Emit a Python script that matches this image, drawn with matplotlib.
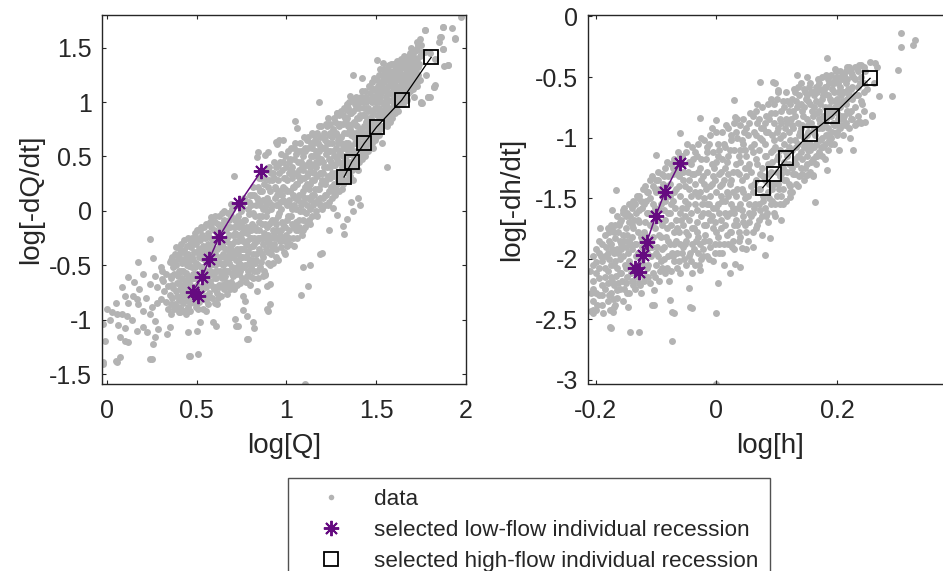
import numpy as np
import matplotlib
matplotlib.use("Agg")
from matplotlib import pyplot as plt
from matplotlib.lines import Line2D

plt.rcParams['font.family'] = ['Liberation Sans', 'DejaVu Sans']
plt.rcParams['axes.unicode_minus'] = False

# ---- selected recessions ----
low_logQ = [0.859, 0.738, 0.625, 0.571, 0.532, 0.479, 0.507]
low_dQ = [0.364, 0.069, -0.241, -0.444, -0.603, -0.741, -0.778]
high_logQ = [1.806, 1.642, 1.503, 1.434, 1.364, 1.321]
high_dQ = [1.411, 1.017, 0.772, 0.622, 0.449, 0.311]

low_logh = [-0.061, -0.085, -0.1005, -0.1154, -0.121, -0.135, -0.128]
low_dh = [-1.212, -1.446, -1.647, -1.864, -1.969, -2.078, -2.111]
high_logh = [0.255, 0.192, 0.155, 0.1156, 0.096, 0.077]
high_dh = [-0.511, -0.822, -0.970, -1.171, -1.300, -1.413]

# ---- gray data cloud, discharge panel ----
data_q_band = [
    (0.30, -0.52), (0.31, -0.63), (0.32, -0.74), (0.30, -0.81), (0.33, -0.58), (0.34, -0.69), (0.33, -0.84),
    (0.35, -0.47), (0.35, -0.77), (0.34, -0.90), (0.36, -0.62), (0.37, -0.71), (0.37, -0.52), (0.38, -0.86),
    (0.38, -0.40), (0.39, -0.66), (0.39, -0.78), (0.40, -0.55), (0.40, -0.93), (0.36, -0.95), (0.41, -0.35),
    (0.41, -0.72), (0.42, -0.48), (0.42, -0.62), (0.43, -0.81), (0.43, -0.27), (0.44, -0.57), (0.44, -0.70),
    (0.45, -0.40), (0.45, -0.88), (0.46, -0.51), (0.46, -0.76), (0.44, -0.95), (0.47, -0.63), (0.47, -0.33),
    (0.48, -0.45), (0.48, -0.84), (0.49, -0.58), (0.49, -0.20), (0.50, -0.68), (0.50, -0.38), (0.51, -0.90),
    (0.51, -0.50), (0.52, -0.27), (0.52, -0.62), (0.50, -0.80), (0.53, -0.73), (0.53, -0.43), (0.54, -0.15),
    (0.54, -0.55), (0.55, -0.82), (0.55, -0.35), (0.56, -0.66), (0.56, -0.47), (0.57, -0.24), (0.57, -0.75),
    (0.58, -0.58), (0.58, -0.06), (0.55, -0.92), (0.59, -0.38), (0.60, -0.70), (0.60, -0.50), (0.61, -0.28),
    (0.61, -0.62), (0.62, -0.12), (0.62, -0.80), (0.63, -0.42), (0.63, -0.55), (0.64, -0.02), (0.64, -0.68),
    (0.65, -0.33), (0.65, -0.18), (0.66, -0.60), (0.66, -0.48), (0.67, -0.76), (0.67, -0.25), (0.68, -0.08),
    (0.68, -0.40), (0.69, -0.65), (0.69, 0.06), (0.70, -0.52), (0.70, -0.30), (0.71, -0.15), (0.71, -0.72),
    (0.72, -0.45), (0.72, -0.58), (0.73, -0.22), (0.73, -0.05), (0.74, -0.66), (0.74, -0.35), (0.75, -0.50),
    (0.75, -0.12), (0.76, -0.28), (0.76, -0.78), (0.77, 0.10), (0.77, -0.42), (0.78, -0.60), (0.78, -0.20),
    (0.79, -0.03), (0.79, -0.48), (0.80, -0.33), (0.80, -0.68), (0.81, 0.15), (0.81, -0.12), (0.82, -0.55),
    (0.82, -0.25), (0.83, 0.05), (0.83, -0.40), (0.84, -0.62), (0.84, 0.22), (0.85, -0.18), (0.85, -0.05),
    (0.86, -0.47), (0.86, 0.30), (0.87, -0.30), (0.87, 0.10), (0.88, -0.58), (0.88, -0.12), (0.89, 0.38),
    (0.89, 0.00), (0.90, -0.38), (0.90, -0.22), (0.91, 0.18), (0.91, -0.50), (0.92, -0.08), (0.92, 0.28),
    (0.93, -0.30), (0.93, 0.45), (0.94, 0.05), (0.94, -0.42), (0.95, -0.18), (0.95, 0.15), (0.96, 0.35),
    (0.96, -0.02), (0.97, -0.33), (0.97, 0.52), (0.98, 0.22), (0.98, -0.12), (0.99, 0.08), (0.99, -0.40),
    (1.00, 0.40), (1.00, -0.22), (1.01, 0.55), (1.01, -0.05), (1.02, 0.18), (1.02, -0.30), (1.03, 0.30),
    (1.03, 0.02), (1.04, -0.15), (1.04, 0.48), (1.05, 0.12), (1.05, 0.62), (1.06, -0.25), (1.06, 0.25),
    (1.07, 0.38), (1.07, -0.08), (1.08, 0.05), (1.08, 0.55), (1.09, 0.18), (1.09, -0.18), (1.10, 0.68),
    (1.10, 0.30), (1.11, 0.42), (1.11, -0.02), (1.12, 0.12), (1.12, 0.58), (1.13, 0.25), (1.13, -0.12),
    (1.14, 0.72), (1.14, 0.36), (1.15, 0.05), (1.15, 0.50), (1.16, 0.20), (1.16, 0.65), (1.17, -0.05),
    (1.17, 0.32), (1.18, 0.45), (1.18, 0.78), (1.19, 0.12), (1.19, 0.60), (1.20, 0.28), (1.20, 0.02),
    (1.21, 0.72), (1.21, 0.40), (1.22, 0.52), (1.22, 0.15), (1.23, 0.85), (1.23, 0.32), (1.24, 0.62),
    (1.24, 0.08), (1.25, 0.45), (1.25, 0.22), (1.26, 0.75), (1.26, 0.55), (1.27, 0.35), (1.27, 0.15),
    (1.28, 0.90), (1.28, 0.48), (1.29, 0.65), (1.29, 0.28), (1.30, 0.80), (1.30, 0.55), (1.31, 0.40),
    (1.31, 0.20), (1.32, 0.72), (1.32, 0.95), (1.33, 0.50), (1.33, 0.62), (1.34, 0.35), (1.34, 0.85),
    (1.35, 0.58), (1.35, 1.00), (1.36, 0.45), (1.36, 0.70), (1.37, 0.28), (1.37, 0.92), (1.38, 0.62),
    (1.38, 0.80), (1.39, 0.50), (1.39, 1.05), (1.40, 0.72), (1.40, 0.38), (1.41, 0.88), (1.41, 0.60),
    (1.42, 1.10), (1.42, 0.48), (1.43, 0.78), (1.43, 0.95), (1.44, 0.68), (1.44, 0.55), (1.45, 1.02),
    (1.45, 0.85), (1.46, 0.62), (1.46, 1.15), (1.47, 0.75), (1.47, 0.92), (1.48, 0.58), (1.48, 1.05),
    (1.49, 0.82), (1.49, 1.22), (1.50, 0.95), (1.50, 0.68), (1.51, 1.12), (1.51, 0.88), (1.52, 0.75),
    (1.52, 1.30), (1.53, 1.00), (1.53, 0.62), (1.54, 1.18), (1.54, 0.85), (1.55, 0.95), (1.55, 1.28),
    (1.56, 0.78), (1.56, 1.08), (1.57, 1.22), (1.57, 0.90), (1.58, 1.35), (1.58, 1.02), (1.59, 0.85),
    (1.59, 1.15), (1.60, 1.25), (1.60, 0.98), (1.61, 1.10), (1.62, 1.32), (1.62, 0.92), (1.63, 1.20),
    (1.63, 1.05), (1.64, 1.40), (1.65, 0.98), (1.65, 1.25), (1.66, 1.12), (1.66, 1.35), (1.67, 1.02),
    (1.67, 1.18), (1.68, 1.30), (1.69, 1.10), (1.69, 1.45), (1.70, 1.22), (1.71, 1.38), (1.71, 1.05),
    (1.72, 1.28), (1.73, 1.48), (1.73, 1.15), (1.74, 1.35), (1.75, 1.52), (1.75, 1.00),
]
# more band points, one row per log[Q] column: (x, y1, y2, ...)
data_q_cols = [
    (0.355, -0.86, -0.60, -0.45), (0.365, -0.80, -0.68, -0.42), (0.375, -0.90, -0.58, -0.47),
    (0.385, -0.74, -0.50, -0.33), (0.395, -0.88, -0.60, -0.44), (0.405, -0.82, -0.66, -0.40),
    (0.415, -0.90, -0.55, -0.30), (0.425, -0.75, -0.38, -0.70), (0.435, -0.92, -0.64, -0.45),
    (0.445, -0.82, -0.50, -0.32), (0.455, -0.72, -0.60, -0.25), (0.465, -0.92, -0.44, -0.68),
    (0.475, -0.80, -0.52, -0.25), (0.485, -0.70, -0.38, -0.62), (0.495, -0.88, -0.48, -0.30),
    (0.505, -0.75, -0.58, -0.18), (0.515, -0.84, -0.42, -0.35), (0.525, -0.70, -0.52, -0.15),
    (0.535, -0.90, -0.62, -0.32), (0.545, -0.78, -0.45, -0.25), (0.555, -0.70, -0.55, -0.12),
    (0.565, -0.86, -0.40, -0.30), (0.575, -0.64, -0.50, -0.10), (0.585, -0.80, -0.30, -0.45),
    (0.595, -0.72, -0.56, -0.18), (0.605, -0.85, -0.40, -0.05), (0.615, -0.75, -0.48, -0.20),
    (0.625, -0.68, -0.33, -0.05), (0.635, -0.78, -0.60, -0.25), (0.645, -0.50, -0.40, -0.12),
    (0.655, -0.72, -0.55, 0.00), (0.665, -0.65, -0.35, -0.18), (0.675, -0.55, -0.45, -0.02),
    (0.685, -0.72, -0.30, -0.15), (0.695, -0.58, -0.42, 0.02), (0.705, -0.68, -0.22, -0.38),
    (0.715, -0.55, -0.08, -0.28), (0.725, -0.68, -0.35, 0.05), (0.735, -0.48, -0.15, -0.58),
    (0.745, -0.25, -0.42, 0.00), (0.755, -0.62, -0.35, -0.20), (0.765, -0.52, -0.08, 0.12),
    (0.775, -0.65, -0.30, -0.15), (0.785, -0.55, -0.38, 0.02), (0.795, -0.25, -0.60, 0.15),
    (0.805, -0.45, -0.18, 0.05), (0.815, -0.62, -0.32, 0.22), (0.825, -0.48, -0.05, -0.15),
    (0.835, -0.55, -0.28, 0.12), (0.845, -0.35, -0.10, 0.30), (0.855, -0.52, -0.25, 0.05),
    (0.865, -0.40, -0.12, 0.18), (0.875, -0.55, -0.20, 0.25), (0.885, -0.35, 0.05, -0.05),
    (0.895, -0.48, -0.28, 0.22), (0.905, -0.12, 0.08, 0.40), (0.915, -0.40, -0.25, 0.02),
    (0.925, -0.48, -0.18, 0.35), (0.935, -0.08, 0.12, 0.22), (0.945, -0.35, -0.25, 0.40),
    (0.955, -0.45, -0.05, 0.28), (0.965, -0.22, 0.08, 0.45), (0.975, -0.10, 0.15, 0.38),
    (0.985, -0.38, -0.25, 0.30), (0.995, -0.15, 0.20, 0.50), (1.005, -0.32, 0.05, 0.28),
    (1.015, -0.18, 0.10, 0.45), (1.025, -0.05, 0.38, 0.58), (1.035, -0.25, 0.15, 0.22),
    (1.045, -0.32, 0.05, 0.35), (1.055, -0.10, 0.25, 0.52), (1.065, -0.18, 0.10, 0.45),
    (1.075, 0.00, 0.28, 0.62), (1.085, -0.22, 0.15, 0.40), (1.095, -0.08, 0.08, 0.50),
    (1.105, -0.15, 0.22, 0.58), (1.115, 0.05, 0.32, 0.65), (1.125, -0.08, 0.20, 0.45),
    (1.135, 0.10, 0.50, 0.62), (1.145, -0.05, 0.28, 0.42), (1.155, 0.15, 0.35, 0.70),
    (1.165, 0.00, 0.45, 0.55), (1.175, 0.20, 0.10, 0.62), (1.185, 0.05, 0.35, 0.68),
    (1.195, 0.25, 0.48, 0.78), (1.205, 0.12, 0.35, 0.58), (1.215, 0.05, 0.25, 0.65),
    (1.225, 0.40, 0.62, 0.78), (1.235, 0.18, 0.48, 0.70), (1.245, 0.30, 0.55, 0.80),
    (1.255, 0.12, 0.35, 0.68), (1.265, 0.25, 0.42, 0.85), (1.275, 0.20, 0.58, 0.72),
    (1.285, 0.35, 0.62, 0.80), (1.295, 0.18, 0.45, 0.88), (1.305, 0.30, 0.68, 0.92),
    (1.315, 0.25, 0.50, 0.80), (1.325, 0.38, 0.58, 0.85), (1.335, 0.28, 0.72, 0.98),
    (1.345, 0.45, 0.62, 0.78), (1.355, 0.32, 0.52, 0.90), (1.365, 0.38, 0.80, 1.02),
    (1.375, 0.48, 0.68, 0.82), (1.385, 0.42, 0.72, 0.95), (1.395, 0.55, 0.85, 1.00),
    (1.405, 0.45, 0.62, 0.95), (1.415, 0.52, 0.75, 1.05), (1.425, 0.62, 0.88, 1.00),
    (1.435, 0.50, 0.72, 1.10), (1.445, 0.60, 0.82, 1.00), (1.455, 0.55, 0.72, 0.92),
    (1.465, 0.68, 0.85, 1.08), (1.475, 0.62, 1.00, 1.18), (1.485, 0.70, 0.90, 1.12),
    (1.495, 0.65, 0.78, 1.05), (1.505, 0.82, 1.00, 1.20), (1.515, 0.70, 0.95, 1.25),
    (1.525, 0.85, 1.08, 1.18), (1.535, 0.78, 0.92, 1.25), (1.545, 0.98, 1.12, 1.30),
    (1.555, 0.85, 1.05, 1.20), (1.565, 0.95, 1.15, 1.32), (1.575, 0.82, 1.08, 1.28),
    (1.585, 0.92, 1.18, 1.25), (1.595, 1.00, 1.10, 1.35), (1.605, 0.90, 1.15, 1.30),
    (1.615, 1.02, 1.22, 1.38), (1.625, 0.98, 1.12, 1.28), (1.635, 1.08, 1.25, 1.35),
    (1.645, 1.00, 1.18, 1.32), (1.655, 1.05, 1.22, 1.42), (1.665, 1.10, 1.28, 1.38),
    (1.675, 1.08, 1.20, 1.35), (1.685, 1.15, 1.25, 1.42), (1.695, 1.18, 1.32, 1.50),
    (1.705, 1.12, 1.28, 1.45), (1.715, 1.22, 1.35, 1.48), (1.725, 1.18, 1.40, 1.55),
    (1.735, 1.25, 1.32, 1.52), (1.745, 1.20, 1.42, 1.58),
    (0.4125, -0.78, -0.44), (0.4225, -0.85, -0.55), (0.4325, -0.68, -0.36), (0.4425, -0.78, -0.42),
    (0.4525, -0.65, -0.48), (0.4625, -0.85, -0.30), (0.4725, -0.72, -0.42), (0.4825, -0.58, -0.28),
    (0.4925, -0.78, -0.52), (0.5025, -0.62, -0.25), (0.5125, -0.70, -0.58), (0.5225, -0.80, -0.40),
    (0.5325, -0.52, -0.22), (0.5425, -0.68, -0.35), (0.5525, -0.60, -0.42), (0.5625, -0.78, -0.20),
    (0.5725, -0.55, -0.35), (0.5825, -0.68, -0.15), (0.5925, -0.48, -0.28), (0.6025, -0.62, -0.10),
    (0.6125, -0.55, -0.35), (0.6225, -0.70, -0.22), (0.6325, -0.48, -0.15), (0.6425, -0.62, -0.30),
    (0.6525, -0.42, -0.08), (0.6625, -0.55, -0.28), (0.6725, -0.68, -0.15), (0.6825, -0.48, -0.22),
    (0.6925, -0.35, -0.05), (0.7025, -0.60, -0.42), (0.7125, -0.38, -0.20), (0.7225, -0.52, -0.12),
    (0.7325, -0.40, -0.28), (0.7425, -0.55, -0.10), (0.7525, -0.42, 0.05), (0.7625, -0.35, -0.18),
    (0.7725, -0.50, -0.08), (0.7825, -0.42, -0.28), (0.7925, -0.15, 0.08), (0.8025, -0.52, -0.25),
    (0.8125, -0.40, -0.02), (0.8225, -0.30, 0.15), (0.8325, -0.18, -0.45), (0.8425, -0.25, 0.10),
    (0.8525, -0.38, 0.18), (0.8625, -0.05, -0.25), (0.8725, -0.42, 0.02), (0.8825, -0.25, 0.30),
    (0.8925, -0.15, 0.12), (0.9025, -0.30, 0.28), (0.9125, -0.10, 0.35), (0.9225, -0.35, 0.05),
    (0.9325, -0.20, 0.30), (0.9425, -0.12, 0.20), (0.9525, 0.05, 0.42), (0.9625, -0.28, 0.18),
    (0.9725, -0.18, 0.02), (0.9825, 0.10, 0.45), (0.9925, -0.28, 0.30), (1.0025, -0.08, 0.18),
    (1.0125, -0.25, 0.35), (1.0225, 0.05, 0.48), (1.0325, -0.12, 0.40), (1.0425, 0.22, 0.58),
    (1.0525, -0.18, 0.02), (1.0625, 0.32, 0.55), (1.0725, -0.15, 0.15), (1.0825, 0.30, 0.45),
    (1.0925, 0.00, 0.38), (1.1025, 0.12, 0.55), (1.1125, -0.10, 0.25), (1.1225, 0.35, 0.68),
    (1.1325, 0.02, 0.40), (1.1425, 0.15, 0.58), (1.1525, 0.28, 0.62), (1.1625, 0.08, 0.40),
    (1.1725, 0.50, 0.72), (1.1825, 0.20, 0.55), (1.1925, 0.35, 0.05), (1.2025, 0.45, 0.68),
    (1.2125, 0.15, 0.58), (1.2225, 0.28, 0.80), (1.2325, 0.05, 0.55), (1.2425, 0.40, 0.72),
    (1.2525, 0.18, 0.62), (1.2625, 0.32, 0.50), (1.2725, 0.42, 0.82), (1.2825, 0.25, 0.70),
    (1.2925, 0.52, 0.78), (1.3025, 0.35, 0.62), (1.3125, 0.58, 0.88), (1.3225, 0.28, 0.45),
    (1.3325, 0.40, 0.82), (1.3425, 0.55, 0.95), (1.3525, 0.42, 0.75), (1.3625, 0.60, 0.90),
    (1.3725, 0.55, 0.72), (1.3825, 0.50, 0.98), (1.3925, 0.65, 0.78), (1.4025, 0.55, 0.85),
    (1.4125, 0.68, 1.00), (1.4225, 0.55, 0.70), (1.4325, 0.62, 0.88), (1.4425, 0.78, 1.05),
    (1.4525, 0.68, 0.95), (1.4625, 0.75, 1.02), (1.4725, 0.68, 0.85), (1.4825, 0.80, 1.12),
    (1.4925, 0.72, 0.95), (1.5025, 0.88, 1.08), (1.5125, 0.78, 1.15), (1.5225, 0.92, 1.05),
    (1.5325, 0.85, 1.15), (1.5425, 0.90, 1.22), (1.5525, 0.82, 1.12), (1.5625, 1.00, 1.25),
    (1.5725, 0.95, 1.15), (1.5825, 1.08, 1.28), (1.5925, 0.95, 1.22), (1.6025, 1.05, 1.18),
    (1.6125, 0.95, 1.28), (1.6225, 1.08, 1.22), (1.6325, 1.15, 1.30), (1.6425, 1.08, 1.25),
    (1.6525, 1.15, 1.32), (1.6625, 1.02, 1.22), (1.6725, 1.25, 1.40), (1.6825, 1.18, 1.35),
    (1.6925, 1.22, 1.40), (1.7025, 1.30, 1.42), (1.7125, 1.15, 1.32),
]
data_q_outer = [
    (1.77, 1.46), (1.78, 1.25), (1.79, 1.05), (1.80, 1.45), (1.82, 1.14), (1.83, 1.40), (1.85, 1.55),
    (1.77, 1.66), (1.87, 1.69), (1.86, 1.60), (1.87, 1.49), (1.90, 1.34), (1.94, 1.58), (1.97, 1.78),
    (1.92, 1.68), (1.826, 1.156), (1.875, 1.33), (-0.019, -1.039), (-0.01, -1.192), (-0.019, -1.392),
    (0.028, -0.931), (0.056, -0.947), (0.083, -0.947), (0.111, -0.962), (0.074, -1.162), (0.102, -1.192),
    (0.121, -1.208), (0.056, -1.392), (0.074, -1.346), (0.148, -0.778), (0.167, -0.809), (0.176, -0.855),
    (0.083, -0.695), (0.121, -0.609), (0.176, -0.471), (0.241, -0.256), (0.26, -0.431), (0.204, -0.916),
    (0.241, -0.947), (0.269, -1.008), (0.287, -1.085), (0.269, -1.162), (0.26, -1.223), (0.241, -1.361),
    (0.204, -1.07), (0.223, -1.116), (0.306, -0.548), (0.315, -0.64), (0.278, -0.701), (0.352, -1.07),
    (0.334, -1.131), (0.408, -0.931), (0.455, -1.116), (0.464, -1.33), (0.51, -1.315), (0.519, -1.024),
    (0.501, -1.1), (0.594, -1.024), (0.612, -0.855), (0.714, -0.993), (0.733, -1.054), (0.779, -0.962),
    (0.816, -1.024), (0.789, -1.177), (0.77, -0.824), (0.835, -0.732), (0.89, -0.686), (0.909, -0.855),
    (0.90, -0.916), (0.872, -0.594), (0.15, -0.65), (0.18, -0.72), (0.20, -0.58), (0.22, -0.80),
    (0.24, -0.67), (0.25, -0.88), (0.27, -0.60), (0.28, -0.85), (0.12, -0.85), (0.10, -0.78), (0.05, -0.85),
    (0.00, -0.90), (0.02, -1.00), (0.06, -1.05), (0.14, -1.00), (0.17, -1.10), (0.10, -1.08),
    (0.71, 0.32), (0.835, 0.495), (0.88, 0.51), (0.946, 0.618), (0.98, 0.65), (0.52, -0.18),
    (1.188, -0.394), (1.09, -0.52), (1.08, -0.77), (1.28, -0.04), (1.37, 0.00), (1.318, -0.14),
    (1.56, 0.40), (1.40, 0.12), (1.104, -1.59), (1.32, -0.21), (1.34, -0.07), (1.41, 0.05), (1.36, 0.08),
    (1.26, 0.03), (1.20, -0.39), (1.24, -0.18), (1.13, -0.50), (1.12, -0.69), (0.91, -0.67), (0.88, -0.59),
    (0.96, 0.65), (1.06, 0.76), (1.05, 0.83), (0.84, 0.54), (0.90, 0.54), (0.94, 0.63), (1.18, 1.00),
    (1.75, 0.99), (1.80, 1.05), (1.772, 1.662), (1.874, 1.693), (1.856, 1.60), (1.94, 1.585), (1.735, 1.52),
    (1.754, 1.46), (1.874, 1.49), (1.902, 1.34), (1.82, 1.14), (1.79, 1.05), (1.754, 0.99), (1.633, 1.31),
    (1.57, 1.34), (1.503, 1.39), (1.54, 1.355), (1.373, 1.25), (1.42, 1.22), (1.466, 1.14), (1.52, 1.17),
    (1.355, 1.06), (1.28, 0.895), (1.336, 0.925), (0.61, -1.06), (0.72, -1.06), (0.82, -1.08),
    (0.76, -0.91), (0.25, -1.36), (0.46, -1.33), (0.05, -1.38), (-0.02, -1.41), (0.78, -1.18), (0.89, -0.90),
]

# ---- gray data cloud, stage panel ----
data_h_band = [
    (-0.210, -2.10), (-0.205, -2.25), (-0.200, -2.03), (-0.198, -2.38), (-0.195, -2.16), (-0.192, -1.98),
    (-0.190, -2.30), (-0.188, -2.45), (-0.185, -2.08), (-0.207, -2.43), (-0.183, -1.90), (-0.180, -2.20),
    (-0.178, -1.78), (-0.175, -2.05), (-0.172, -2.33), (-0.170, -1.95), (-0.168, -1.83), (-0.166, -2.14),
    (-0.164, -2.26), (-0.162, -1.72), (-0.160, -2.00), (-0.176, -2.42), (-0.158, -1.88), (-0.156, -2.18),
    (-0.154, -1.62), (-0.152, -2.05), (-0.150, -1.75), (-0.148, -2.28), (-0.146, -1.95), (-0.144, -1.55),
    (-0.142, -2.12), (-0.140, -1.82), (-0.138, -2.22), (-0.136, -1.68), (-0.134, -1.98), (-0.132, -1.48),
    (-0.130, -1.78), (-0.128, -1.60), (-0.126, -2.22), (-0.124, -1.90), (-0.122, -1.42), (-0.120, -2.05),
    (-0.118, -1.70), (-0.116, -1.52), (-0.114, -2.15), (-0.112, -1.85), (-0.110, -1.35), (-0.108, -1.98),
    (-0.106, -1.62), (-0.104, -2.26), (-0.102, -1.75), (-0.100, -1.45), (-0.098, -1.90), (-0.096, -1.28),
    (-0.094, -2.10), (-0.092, -1.55), (-0.090, -1.72), (-0.088, -1.38), (-0.086, -2.00), (-0.084, -1.82),
    (-0.082, -1.20), (-0.080, -1.62), (-0.078, -2.18), (-0.076, -1.48), (-0.074, -1.95), (-0.072, -1.30),
    (-0.070, -1.78), (-0.068, -1.58), (-0.066, -2.08), (-0.064, -1.12), (-0.062, -1.40), (-0.060, -1.88),
    (-0.058, -1.68), (-0.056, -1.22), (-0.054, -2.00), (-0.052, -1.52), (-0.050, -1.78), (-0.048, -1.05),
    (-0.046, -1.35), (-0.044, -1.95), (-0.042, -1.62), (-0.040, -2.12), (-0.038, -1.18), (-0.036, -1.45),
    (-0.034, -1.85), (-0.032, -1.70), (-0.030, -1.28), (-0.028, -2.05), (-0.026, -1.00), (-0.024, -1.55),
    (-0.022, -1.92), (-0.020, -1.38), (-0.018, -1.80), (-0.016, -1.12), (-0.014, -1.62), (-0.012, -2.00),
    (-0.010, -1.48), (-0.008, -0.92), (-0.006, -1.75), (-0.004, -1.25), (-0.002, -1.88), (0.000, -1.58),
    (0.002, -1.05), (0.004, -1.95), (0.006, -1.40), (0.008, -1.68), (0.010, -1.18), (0.012, -2.05),
    (0.014, -1.52), (0.016, -0.90), (0.018, -1.80), (0.020, -1.30), (0.022, -1.62), (0.024, -1.02),
    (0.026, -1.90), (0.028, -1.45), (0.030, -1.72), (0.032, -1.22), (0.034, -0.85), (0.036, -1.58),
    (0.038, -1.85), (0.040, -1.10), (0.042, -1.35), (0.044, -1.70), (0.046, -0.95), (0.048, -1.50),
    (0.050, -1.92), (0.052, -1.25), (0.054, -1.62), (0.056, -0.80), (0.058, -1.40), (0.060, -1.78),
    (0.062, -1.05), (0.064, -1.55), (0.066, -1.18), (0.068, -0.72), (0.070, -1.68), (0.072, -1.30),
    (0.074, -0.92), (0.076, -1.80), (0.078, -1.48), (0.080, -1.05), (0.082, -0.82), (0.084, -1.62),
    (0.086, -1.22), (0.088, -1.38), (0.090, -0.68), (0.092, -1.52), (0.094, -1.10), (0.096, -0.88),
    (0.098, -1.65), (0.100, -1.28), (0.102, -0.62), (0.104, -1.42), (0.106, -1.00), (0.108, -0.78),
    (0.110, -1.55), (0.112, -1.20), (0.114, -0.92), (0.116, -1.35), (0.118, -0.70), (0.120, -1.08),
    (0.122, -1.45), (0.124, -0.85), (0.126, -1.25), (0.128, -0.60), (0.130, -1.02), (0.132, -1.38),
    (0.134, -0.75), (0.136, -1.15), (0.138, -0.95), (0.140, -0.55), (0.142, -1.30), (0.144, -0.82),
    (0.146, -1.08), (0.148, -0.68), (0.150, -1.22), (0.152, -0.90), (0.154, -0.58), (0.156, -1.05),
    (0.158, -0.78), (0.160, -1.32), (0.162, -0.65), (0.164, -0.98), (0.166, -1.15), (0.168, -0.52),
    (0.170, -0.85), (0.172, -0.72), (0.174, -1.08), (0.176, -0.92), (0.178, -0.62), (0.180, -1.18),
    (0.182, -0.48), (0.184, -0.80), (0.186, -0.98), (0.188, -0.68), (0.190, -1.05), (0.192, -0.55),
    (0.194, -0.88), (0.196, -0.75), (0.198, -0.45), (0.200, -0.95), (0.202, -0.62), (0.204, -1.10),
    (0.206, -0.82), (0.208, -0.52), (0.210, -0.70), (0.214, -0.90), (0.216, -0.42), (0.218, -0.60),
    (0.222, -1.00), (0.224, -0.78), (0.226, -0.50), (0.230, -0.65), (0.234, -0.88), (0.236, -0.40),
    (0.238, -0.55), (0.242, -0.72), (0.246, -0.45), (0.250, -0.60), (0.254, -0.38), (0.258, -0.82),
    (0.262, -0.55), (0.266, -0.42), (0.270, -0.66),
]
# more band points, one row per log[h] column: (x, y1, y2, ...)
data_h_cols = [
    (-0.205, -2.35, -2.18, -2.05, -1.98), (-0.200, -2.42, -2.28, -2.12, -1.92),
    (-0.195, -2.30, -2.08, -1.95, -1.85), (-0.190, -2.38, -2.22, -2.02, -1.88),
    (-0.185, -2.25, -2.15, -1.98, -1.80), (-0.180, -2.35, -2.10, -1.95, -1.75),
    (-0.175, -2.28, -2.15, -1.88, -1.72), (-0.170, -2.40, -2.22, -2.05, -1.78),
    (-0.165, -2.32, -2.08, -1.92, -1.65), (-0.160, -2.25, -2.12, -1.85, -1.70),
    (-0.155, -2.35, -1.98, -1.80, -1.60), (-0.150, -2.20, -2.08, -1.90, -1.65),
    (-0.145, -2.28, -2.02, -1.85, -1.70), (-0.140, -2.18, -1.92, -1.72, -1.58),
    (-0.135, -2.25, -2.08, -1.88, -1.55), (-0.130, -2.15, -1.95, -1.68, -1.50),
    (-0.125, -2.28, -2.02, -1.82, -1.52), (-0.120, -2.18, -1.92, -1.78, -1.55),
    (-0.115, -2.08, -1.95, -1.62, -1.45), (-0.110, -2.20, -1.90, -1.72, -1.50),
    (-0.105, -2.12, -1.82, -1.55, -1.40), (-0.100, -2.05, -1.95, -1.65, -1.35),
    (-0.095, -2.18, -1.80, -1.60, -1.42), (-0.090, -2.08, -1.92, -1.48, -1.30),
    (-0.085, -2.12, -1.68, -1.52, -1.25), (-0.080, -1.98, -1.85, -1.40, -1.32),
    (-0.075, -2.10, -1.72, -1.55, -1.22), (-0.070, -2.02, -1.88, -1.45, -1.18),
    (-0.065, -1.95, -1.75, -1.30, -1.25), (-0.060, -2.12, -1.62, -1.48, -1.15),
    (-0.055, -1.90, -1.72, -1.35, -1.28), (-0.050, -2.05, -1.85, -1.58, -1.12),
    (-0.045, -1.98, -1.68, -1.42, -1.20), (-0.040, -1.88, -1.75, -1.30, -1.08),
    (-0.035, -2.05, -1.55, -1.38, -1.12), (-0.030, -1.95, -1.82, -1.48, -1.05),
    (-0.025, -2.00, -1.65, -1.35, -1.18), (-0.020, -1.85, -1.72, -1.50, -1.02),
    (-0.015, -1.98, -1.55, -1.28, -1.08), (-0.010, -1.90, -1.68, -1.40, -0.98),
    (-0.005, -2.02, -1.58, -1.32, -1.12), (0.000, -1.78, -1.45, -1.20, -0.95),
    (0.005, -1.88, -1.62, -1.30, -1.10), (0.010, -1.95, -1.52, -1.38, -0.95),
    (0.015, -1.72, -1.62, -1.25, -1.08), (0.020, -1.88, -1.48, -1.15, -0.92),
    (0.025, -1.78, -1.55, -1.35, -0.98), (0.030, -1.92, -1.62, -1.10, -0.88),
    (0.035, -1.72, -1.42, -1.28, -1.00), (0.040, -1.82, -1.55, -1.20, -0.90),
    (0.045, -1.65, -1.45, -1.05, -0.85), (0.050, -1.78, -1.32, -1.15, -0.92),
    (0.055, -1.70, -1.55, -1.22, -0.88), (0.060, -1.62, -1.45, -1.12, -0.82),
    (0.065, -1.75, -1.35, -0.98, -0.78), (0.070, -1.55, -1.42, -1.10, -0.85),
    (0.075, -1.65, -1.25, -1.02, -0.75), (0.080, -1.58, -1.35, -1.15, -0.88),
    (0.085, -1.70, -1.45, -0.95, -0.72), (0.090, -1.55, -1.28, -1.12, -0.80),
    (0.095, -1.62, -1.38, -1.02, -0.72), (0.100, -1.48, -1.18, -0.95, -0.68),
    (0.105, -1.55, -1.32, -1.10, -0.85), (0.110, -1.42, -1.25, -0.98, -0.70),
    (0.115, -1.52, -1.12, -0.85, -0.62), (0.120, -1.38, -1.22, -0.95, -0.78),
    (0.125, -1.45, -1.10, -0.90, -0.68), (0.130, -1.30, -1.18, -0.82, -0.62),
    (0.135, -1.40, -1.05, -0.88, -0.58), (0.140, -1.25, -1.12, -0.92, -0.72),
    (0.145, -1.35, -1.00, -0.75, -0.60), (0.150, -1.15, -0.98, -0.85, -0.65),
    (0.155, -1.28, -1.10, -0.72, -0.55), (0.160, -1.18, -0.95, -0.82, -0.62),
    (0.165, -1.22, -1.05, -0.70, -0.58), (0.170, -1.12, -0.92, -0.78, -0.55),
    (0.175, -1.15, -1.00, -0.68, -0.50), (0.180, -1.05, -0.88, -0.75, -0.58),
    (0.185, -1.10, -0.92, -0.65, -0.52), (0.190, -1.00, -0.82, -0.70, -0.48),
    (0.195, -1.05, -0.90, -0.62, -0.55), (0.200, -0.98, -0.80, -0.68, -0.50),
    (0.205, -0.92, -0.75, -0.58, -0.45), (0.210, -0.98, -0.85, -0.62, -0.48),
    (0.215, -0.88, -0.72, -0.55, -0.45), (0.220, -0.92, -0.80, -0.65, -0.42),
    (0.225, -0.85, -0.68, -0.58, -0.48), (0.230, -0.90, -0.75, -0.52, -0.42),
    (0.235, -0.82, -0.65, -0.58, -0.45), (0.240, -0.88, -0.70, -0.50, -0.40),
    (0.245, -0.78, -0.62, -0.55, -0.42),
    (-0.1775, -2.30, -2.00, -1.85), (-0.1725, -2.18, -1.92, -1.76), (-0.1675, -2.38, -2.02, -1.72),
    (-0.1625, -2.20, -1.95, -1.78), (-0.1575, -2.12, -1.92, -1.68), (-0.1525, -2.25, -1.85, -1.58),
    (-0.1475, -2.15, -1.80, -1.62), (-0.1425, -2.05, -1.88, -1.65), (-0.1375, -2.18, -1.75, -1.52),
    (-0.1325, -2.08, -1.88, -1.62), (-0.1275, -2.20, -1.70, -1.48), (-0.1225, -2.00, -1.85, -1.58),
    (-0.1175, -2.15, -1.80, -1.40), (-0.1125, -2.05, -1.62, -1.45), (-0.1075, -1.90, -1.72, -1.32),
    (-0.1025, -2.15, -1.58, -1.42), (-0.0975, -1.98, -1.68, -1.35), (-0.0925, -2.02, -1.82, -1.42),
    (-0.0875, -1.90, -1.60, -1.32), (-0.0825, -2.08, -1.75, -1.48), (-0.0775, -1.88, -1.62, -1.38),
    (-0.0725, -1.98, -1.52, -1.25), (-0.0675, -1.85, -1.68, -1.42), (-0.0625, -2.02, -1.78, -1.32),
    (-0.0575, -1.95, -1.58, -1.15), (-0.0525, -1.88, -1.65, -1.40), (-0.0475, -1.80, -1.55, -1.28),
    (-0.0425, -2.02, -1.48, -1.22), (-0.0375, -1.92, -1.75, -1.30), (-0.0325, -1.78, -1.60, -1.15),
    (-0.0275, -1.88, -1.45, -1.25), (-0.0225, -1.98, -1.62, -1.32), (-0.0175, -1.72, -1.42, -1.18),
    (-0.0125, -1.85, -1.55, -1.05), (-0.0075, -1.65, -1.38, -1.22), (-0.0025, -1.95, -1.70, -1.35),
    (0.0025, -1.82, -1.55, -1.15), (0.0075, -1.75, -1.48, -1.28), (0.0125, -1.88, -1.35, -1.05),
    (0.0175, -1.65, -1.45, -1.20), (0.0225, -1.78, -1.38, -1.10), (0.0275, -1.85, -1.58, -1.28),
    (0.0325, -1.68, -1.48, -0.95), (0.0375, -1.78, -1.30, -1.15), (0.0425, -1.60, -1.42, -1.02),
    (0.0475, -1.72, -1.25, -1.10), (0.0525, -1.85, -1.48, -0.98), (0.0575, -1.65, -1.28, -1.08),
    (0.0625, -1.58, -1.38, -0.95), (0.0675, -1.72, -1.22, -0.88), (0.0725, -1.60, -1.42, -1.00),
    (0.0775, -1.52, -1.32, -0.92), (0.0825, -1.65, -1.15, -0.95), (0.0875, -1.50, -1.30, -0.85),
    (0.0925, -1.42, -1.20, -0.98), (0.0975, -1.55, -1.08, -0.80), (0.1025, -1.38, -1.15, -0.92),
    (0.1075, -1.48, -1.30, -0.88), (0.1125, -1.35, -1.05, -0.75), (0.1175, -1.28, -1.15, -0.88),
    (0.1225, -1.40, -1.02, -0.72), (0.1275, -1.30, -0.92, -0.78), (0.1325, -1.22, -1.08, -0.70),
    (0.1375, -1.32, -0.98, -0.65), (0.1425, -1.18, -0.90, -0.78), (0.1475, -1.25, -1.05, -0.62),
    (0.1525, -1.10, -0.95, -0.70), (0.1575, -1.20, -0.88, -0.62), (0.1625, -1.08, -0.92, -0.75),
    (0.1675, -1.15, -0.80, -0.62), (0.1725, -1.02, -0.88, -0.60), (0.1775, -1.08, -0.82, -0.65),
    (0.1825, -0.98, -0.85, -0.58), (0.1875, -1.02, -0.75, -0.55), (0.1925, -0.95, -0.78, -0.60),
    (0.1975, -0.90, -0.70, -0.52), (0.2025, -0.85, -0.72, -0.55), (0.2075, -0.90, -0.65, -0.50),
    (0.2125, -0.82, -0.62, -0.48), (0.2175, -0.78, -0.68, -0.52), (0.2225, -0.85, -0.60, -0.46),
]
data_h_outer = [
    (0.307, -0.14), (0.307, -0.25), (0.326, -0.24), (0.330, -0.195), (0.302, -0.442), (0.291, -0.66),
    (0.263, -0.387), (0.258, -0.81), (0.238, -0.87), (0.183, -0.346), (0.197, -0.43), (0.222, -0.44),
    (0.150, -0.50), (0.247, -0.87), (0.164, -1.53), (0.108, -1.68), (0.089, -1.83), (0.081, -1.97),
    (0.061, -1.90), (0.039, -2.07), (0.003, -2.20), (0.000, -2.45), (-0.044, -2.40), (-0.074, -2.44),
    (-0.074, -2.68), (-0.104, -2.38), (-0.143, -2.60), (-0.128, -2.60), (-0.174, -2.57), (-0.171, -2.44),
    (-0.204, -2.42), (0.000, -3.03), (-0.166, -1.43), (-0.100, -1.14), (-0.060, -0.965), (-0.027, -0.84),
    (0.000, -0.855), (0.031, -0.83), (0.072, -0.54), (0.094, -0.54), (0.133, -0.48), (0.103, -0.61),
    (0.029, -0.69), (-0.193, -1.748), (-0.173, -1.60), (-0.207, -2.285), (-0.204, -2.45), (-0.176, -2.56),
    (-0.146, -2.395), (-0.107, -2.38), (-0.071, -2.45), (-0.077, -2.34), (-0.041, -2.41), (-0.046, -2.24),
    (-0.027, -2.09), (0.023, -2.12), (0.031, -2.04), (0.042, -1.91), (0.122, -1.49), (0.150, -1.31),
    (0.160, -1.31), (0.183, -1.27), (0.227, -1.10), (0.236, -0.87), (0.097, -0.552),
]

fig = plt.figure(figsize=(9.43, 5.71), dpi=100)
gray = '#b3b3b3'
purple = '#650b80'
txt = '#262626'


def cols_to_pairs(cols):
    return [(c[0], y) for c in cols for y in c[1:]]


def draw_panel(ax, pairs, lx, ly, hx, hy):
    pts = np.array(pairs)
    ax.plot(pts[:, 0], pts[:, 1], 'o', color=gray, ms=5.0, mew=0, zorder=1)
    ax.plot(lx, ly, '-', color=purple, lw=1.1, zorder=2)
    ax.plot(lx, ly, ls='none', marker=(8, 2, 0), color=purple, ms=11, mew=1.4, zorder=3)
    ax.plot(hx, hy, '-', color='black', lw=0.9, zorder=2)
    ax.plot(hx, hy, ls='none', marker='s', mfc='none', mec='black', ms=9.5, mew=1.3, zorder=3)
    ax.tick_params(direction='in', top=True, right=True, length=3, width=0.8,
                   labelsize=18, colors=txt)
    ax.tick_params(axis='x', pad=11)
    ax.tick_params(axis='y', pad=7)
    for s in ax.spines.values():
        s.set_color(txt)
        s.set_linewidth(1.0)


ax1 = fig.add_axes([101.7 / 943, 1 - 383.5 / 571, 364.3 / 943, 368.5 / 571])
draw_panel(ax1, data_q_band + cols_to_pairs(data_q_cols) + data_q_outer,
           low_logQ, low_dQ, high_logQ, high_dQ)
ax1.set_xlim(-0.028, 2.0)
ax1.set_ylim(-1.586, 1.80)
ax1.set_xticks([0, 0.5, 1, 1.5, 2])
ax1.set_xticklabels(['0', '0.5', '1', '1.5', '2'])
ax1.set_yticks([-1.5, -1, -0.5, 0, 0.5, 1, 1.5])
ax1.set_yticklabels(['-1.5', '-1', '-0.5', '0', '0.5', '1', '1.5'])
ax1.set_xlabel('log[Q]', fontsize=20, color=txt)
ax1.set_ylabel('log[-dQ/dt]', fontsize=20, color=txt)
ax1.xaxis.set_label_coords(0.5, -0.135)
ax1.yaxis.set_label_coords(-0.158, 0.5)

ax2 = fig.add_axes([588 / 943, 1 - 383.5 / 571, 364.3 / 943, 368.5 / 571])
draw_panel(ax2, data_h_band + cols_to_pairs(data_h_cols) + data_h_outer,
           low_logh, low_dh, high_logh, high_dh)
ax2.set_xlim(-0.2128, 0.3913)
ax2.set_ylim(-3.029, 0.0116)
ax2.set_xticks([-0.2, 0, 0.2])
ax2.set_xticklabels(['-0.2', '0', '0.2'])
ax2.set_yticks([-3, -2.5, -2, -1.5, -1, -0.5, 0])
ax2.set_yticklabels(['-3', '-2.5', '-2', '-1.5', '-1', '-0.5', '0'])
ax2.set_xlabel('log[h]', fontsize=20, color=txt)
ax2.set_ylabel('log[-dh/dt]', fontsize=20, color=txt)
ax2.xaxis.set_label_coords(0.5, -0.135)
ax2.yaxis.set_label_coords(-0.173, 0.5)

handles = [
    Line2D([], [], ls='none', marker='o', color=gray, ms=4.0, mew=0),
    Line2D([], [], ls='none', marker=(8, 2, 0), color=purple, ms=11, mew=1.4),
    Line2D([], [], ls='none', marker='s', mfc='none', mec='black', ms=9.5, mew=1.3),
]
labels = ['data', 'selected low-flow individual recession', 'selected high-flow individual recession']
leg = fig.legend(handles, labels, loc='upper left', bbox_to_anchor=(288 / 943, 1 - 477.7 / 571),
                 fontsize=16.2, frameon=True, fancybox=False, shadow=False, borderpad=0.5,
                 handlelength=2.8, handletextpad=0.54, labelspacing=0.45, borderaxespad=0)
leg.get_frame().set_edgecolor(txt)
leg.get_frame().set_linewidth(1.0)
for t in leg.get_texts():
    t.set_color(txt)

plt.savefig('out.png', dpi=100)
